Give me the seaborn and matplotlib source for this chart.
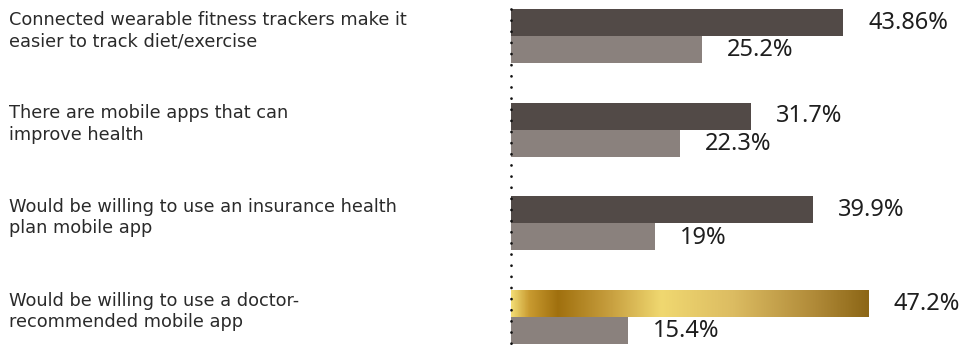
import numpy as np
import pandas as pd
import matplotlib
matplotlib.use('Agg')
import matplotlib.pyplot as plt
import seaborn as sns
from matplotlib.colors import LinearSegmentedColormap
from matplotlib import transforms

# data
statements = [
    "Connected wearable fitness trackers make it\neasier to track diet/exercise",
    "There are mobile apps that can\nimprove health",
    "Would be willing to use an insurance health\nplan mobile app",
    "Would be willing to use a doctor-\nrecommended mobile app",
]
group_a = [43.86, 31.7, 39.9, 47.2]
group_b = [25.2, 22.3, 19.0, 15.4]
labels_a = ["43.86%", "31.7%", "39.9%", "47.2%"]
labels_b = ["25.2%", "22.3%", "19%", "15.4%"]

df = pd.DataFrame({
    "statement": statements * 2,
    "value": group_a + group_b,
    "group": ["a"] * 4 + ["b"] * 4,
})

sns.set_theme(style="white")
plt.rcParams['font.family'] = ['DejaVu Sans']

fig = plt.figure(figsize=(9.61, 3.46), dpi=100)
ax = fig.add_axes([511 / 961, 0, 450 / 961, 1])

sns.barplot(data=df, y="statement", x="value", hue="group", orient="h",
            palette={"a": "#524a47", "b": "#8a817d"}, width=0.575,
            saturation=1, legend=False, linewidth=0, ax=ax)

ax.set_xlim(0, 59.4)
ax.set_ylim(3.31, -0.384)
ax.axis("off")

# gold gradient on the highlighted bar
gold = LinearSegmentedColormap.from_list("gold", [
    (0.0, "#f2dc74"), (0.05, "#c89a30"), (0.13, "#a0700e"),
    (0.28, "#c8a040"), (0.42, "#f0d870"), (0.62, "#dcbc62"),
    (0.85, "#b08a38"), (1.0, "#8c6616")])
hl = ax.patches[3]
hl.set_facecolor("none")
bx = hl.get_x(); by = hl.get_y(); bw = hl.get_width(); bh = hl.get_height()
grad = np.linspace(0, 1, 256).reshape(1, -1)
im = ax.imshow(grad, cmap=gold, aspect="auto",
               extent=[bx, bx + bw, by + bh, by], zorder=hl.get_zorder())
im.set_clip_path(hl)
ax.set_xlim(0, 59.4)
ax.set_ylim(3.31, -0.384)

# dotted baseline
ax.plot([0, 0], [-0.29, 3.31], color="#111111", linewidth=2.0,
        linestyle=(0, (0.01, 4.0)), dash_capstyle="round", zorder=5,
        clip_on=False)

# value labels
for i in range(4):
    ax.text(group_a[i] + 3.3, i - 0.1437, labels_a[i], va="center", ha="left",
            fontsize=17, family=["Noto Sans", "DejaVu Sans"], color="#1e1e1e")
    ax.text(group_b[i] + 3.3, i + 0.1437 + 0.01, labels_b[i], va="center", ha="left",
            fontsize=17, family=["Noto Sans", "DejaVu Sans"], color="#1e1e1e")

# statement labels on the left
trans = transforms.blended_transform_factory(fig.transFigure, ax.transData)
for i, s in enumerate(statements):
    ax.text(9 / 961, i - 0.06, s, transform=trans, ha="left", va="center",
            fontsize=12.8, color="#2a2a2a", linespacing=1.25)

fig.savefig("out.png", dpi=100)
